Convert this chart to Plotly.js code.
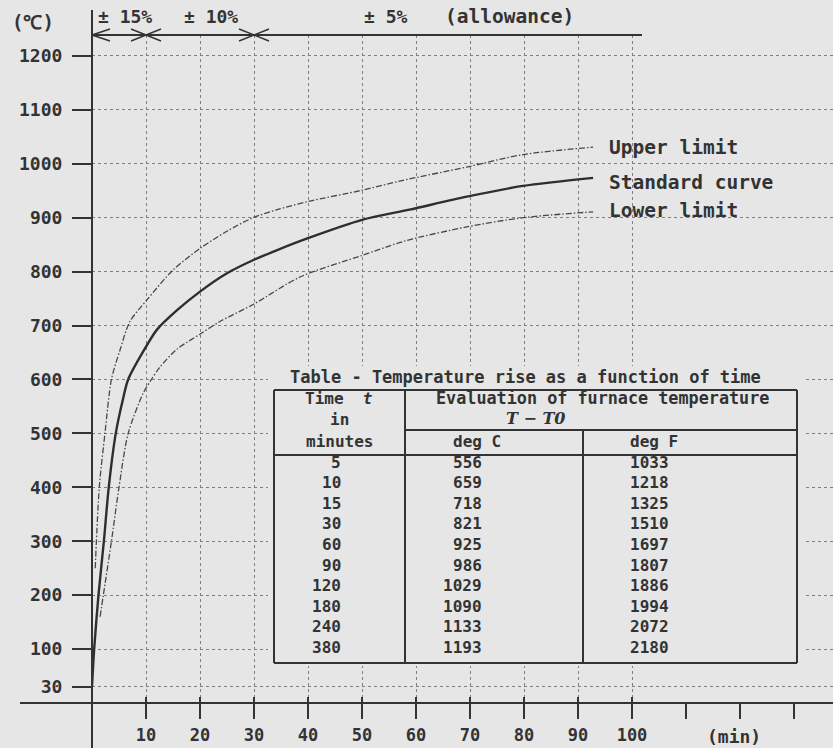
<!DOCTYPE html>
<html>
<head>
<meta charset="utf-8">
<script src="https://cdn.plot.ly/plotly-3.0.1.min.js"></script>
<style>
  html, body { margin: 0; padding: 0; background: #e6e6e6; }
  #chart { width: 833px; height: 748px; }
</style>
</head>
<body>
<div id="chart"></div>
<script>
// ---- data ----
const timeStd = [0, 0.4, 1.2, 2.2, 3.1, 4.4, 5.7, 6.7, 10.2, 12, 15.7, 20, 25, 30, 34.3, 40, 50, 58.8, 69.4, 79.8, 92.8];
const tempStd = [30, 100, 200, 300, 400, 500, 562, 600, 664, 692, 728, 763, 797, 822, 840, 862, 896, 915, 939, 959, 974];

const timeUpper = [0.6, 1.35, 2.4, 3.6, 5.2, 7, 10.2, 15, 20, 25, 29.8, 34.3, 40, 50, 57, 69.4, 79.8, 92.8];
const tempUpper = [250, 400, 500, 600, 655, 707, 748, 803, 843, 875, 900, 915, 930, 951, 968, 994, 1017, 1031];

const timeLower = [1.5, 2.1, 3.6, 5.0, 6.7, 9.5, 11, 12.5, 15.7, 20, 23.6, 30, 38.5, 50, 58, 69.4, 79.8, 92.8];
const tempLower = [160, 200, 300, 400, 500, 575, 600, 622, 656, 684, 707, 740, 790, 830, 857, 883, 900, 911];

const yTicks = [30, 100, 200, 300, 400, 500, 600, 700, 800, 900, 1000, 1100, 1200];
const xTicksLabelled = [10, 20, 30, 40, 50, 60, 70, 80, 90, 100];
const xTicksExtra = [110, 120, 130];

const allowanceBounds = [0, 10, 30];
const allowanceLabels = ["± 15%", "± 10%", "± 5%", "(allowance)"];
const curveLabels = ["Upper limit", "Standard curve", "Lower limit"];

const tableTitle = "Table - Temperature rise as a function of time";
const tableMinutes = ["5", "10", "15", "30", "60", "90", "120", "180", "240", "380"];
const tableDegC = ["556", "659", "718", "821", "925", "986", "1029", "1090", "1133", "1193"];
const tableDegF = ["1033", "1218", "1325", "1510", "1697", "1807", "1886", "1994", "2072", "2180"];

// ---- layout geometry (pixels of the page) ----
const L = 92, R = 833, T = 35, B = 703;
const W = R - L, H = B - T;
const PXMIN = 5.4;        // px per minute
const PXDEG = 0.5392;     // px per degree
const px = x => (x - L) / W;
const py = y => (B - y) / H;

const PAPER = '#e6e6e6';
const INK = '#333333';
const GRID = '#808080';
const MONO = 'DejaVu Sans Mono, Liberation Mono, monospace';

const xRange = [0, W / PXMIN];
const yRange = [0, H / PXDEG];

const limitLine = { color: '#484848', width: 1.3, dash: '6px,2px,1.5px,2px', shape: 'spline', smoothing: 0.8 };
const traces = [
  { x: timeUpper, y: tempUpper, type: 'scatter', mode: 'lines', line: limitLine,
    hoverinfo: 'skip', showlegend: false },
  { x: timeLower, y: tempLower, type: 'scatter', mode: 'lines', line: limitLine,
    hoverinfo: 'skip', showlegend: false },
  { x: timeStd, y: tempStd, type: 'scatter', mode: 'lines',
    line: { color: '#2e2e2e', width: 2.4, shape: 'spline', smoothing: 0.8 },
    hoverinfo: 'skip', showlegend: false },
  { x: [0], y: [0], xaxis: 'x2', type: 'scatter', mode: 'markers',
    marker: { opacity: 0 }, hoverinfo: 'skip', showlegend: false }
];

const shapes = [];
const annotations = [];
function seg(x0, y0, x1, y1, w) {
  shapes.push({ type: 'line', xref: 'paper', yref: 'paper', layer: 'above',
    x0: px(x0), y0: py(y0), x1: px(x1), y1: py(y1),
    line: { color: INK, width: w || 2 } });
}
function txt(x, y, text, size, xanchor, extra) {
  annotations.push(Object.assign({
    xref: 'paper', yref: 'paper', x: px(x), y: py(y), text: text,
    showarrow: false, xanchor: xanchor || 'center', yanchor: 'middle',
    font: { family: MONO, size: size, color: INK, weight: 'bold' }
  }, extra || {}));
}

// table cover (hides grid behind the table)
shapes.push({ type: 'rect', xref: 'paper', yref: 'paper', layer: 'above',
  x0: px(268), x1: px(804), y0: py(366), y1: py(666),
  fillcolor: PAPER, line: { width: 0 } });

// axis lines, crossing at the origin
seg(20, B, 833, B, 2);
seg(L, 10, L, 748, 2);

// allowance bar
const xPix = t => L + t * PXMIN;
seg(L, T, 642, T, 2);
seg(xPix(allowanceBounds[0]), T, xPix(allowanceBounds[0]) + 18, T - 6, 1.5);
seg(xPix(allowanceBounds[0]), T, xPix(allowanceBounds[0]) + 18, T + 6, 1.5);
[allowanceBounds[1], allowanceBounds[2]].forEach(b => {
  const xb = xPix(b);
  seg(xb - 15, T - 6, xb + 15, T + 6, 1.5);
  seg(xb - 15, T + 6, xb + 15, T - 6, 1.5);
});
txt(125, 16, allowanceLabels[0], 18);
txt(211, 16, allowanceLabels[1], 18);
txt(386, 16, allowanceLabels[2], 18);
txt(509, 16, allowanceLabels[3], 19.5);

// unit labels
txt(33, 22, "(℃)", 19);
txt(734, 736, "(min)", 18);

// curve labels
txt(607, 147, curveLabels[0], 19.5, 'left');
txt(607, 182, curveLabels[1], 19.5, 'left');
txt(607, 211, curveLabels[2], 19.5, 'left');

// table frame
seg(274, 390, 797, 390, 2);
seg(274, 663, 797, 663, 2);
seg(274, 390, 274, 663, 2);
seg(797, 390, 797, 663, 2);
seg(405, 390, 405, 663, 2);
seg(583, 430, 583, 663, 2);
seg(405, 430, 797, 430, 2);
seg(274, 455, 797, 455, 2);

txt(525, 377, tableTitle, 17);
txt(339, 398, "Time  <i>t</i>", 16);
txt(339, 419, "in", 16);
txt(339, 442, "minutes", 16);
txt(602, 398, "Evaluation of furnace temperature", 16.8);
txt(536, 418, "<i>T − T0</i>", 16, 'center', { font: { family: 'DejaVu Serif, serif', size: 16, color: INK, weight: 'bold' } });
txt(477, 442, "deg C", 16);
txt(654, 442, "deg F", 16);

const rowY0 = 462, rowStep = 20.6;
tableMinutes.forEach((m, i) => {
  const y = rowY0 + i * rowStep;
  txt(343, y, m, 16, 'right');
  txt(484, y, tableDegC[i], 16, 'right');
  txt(671, y, tableDegF[i], 16, 'right');
});

const allXTicks = xTicksLabelled.concat(xTicksExtra);
const layout = {
  width: 833, height: 748,
  margin: { l: L, r: 833 - R, t: T, b: 748 - B, pad: 0 },
  paper_bgcolor: PAPER, plot_bgcolor: PAPER,
  showlegend: false,
  xaxis: {
    range: xRange, tickmode: 'array', tickvals: allXTicks,
    ticktext: allXTicks.map(v => xTicksLabelled.includes(v) ? String(v) : ''),
    ticks: 'outside', ticklen: 15, tickwidth: 2, tickcolor: INK,
    showgrid: false, zeroline: false, showline: false,
    tickfont: { family: MONO, size: 17, color: INK, weight: 'bold' },
    ticklabelstandoff: 2, fixedrange: true
  },
  xaxis2: {
    range: xRange, overlaying: 'x', anchor: 'y', side: 'bottom',
    tickmode: 'array', tickvals: xTicksLabelled,
    ticks: 'inside', ticklen: 6, tickwidth: 2, tickcolor: INK,
    showticklabels: false, showgrid: true, gridcolor: GRID, gridwidth: 1, griddash: 'dot',
    zeroline: false, showline: false, fixedrange: true
  },
  yaxis: {
    range: yRange, tickmode: 'array', tickvals: yTicks, ticktext: yTicks.map(String),
    ticks: 'outside', ticklen: 19, tickwidth: 2, tickcolor: INK,
    showgrid: true, gridcolor: GRID, gridwidth: 1, griddash: 'dot',
    zeroline: false, showline: false,
    tickfont: { family: MONO, size: 18, color: INK, weight: 'bold' },
    ticklabelstandoff: 6, fixedrange: true
  },
  shapes: shapes,
  annotations: annotations
};

Plotly.newPlot('chart', traces, layout, { displayModeBar: false, staticPlot: true });
</script>
</body>
</html>
